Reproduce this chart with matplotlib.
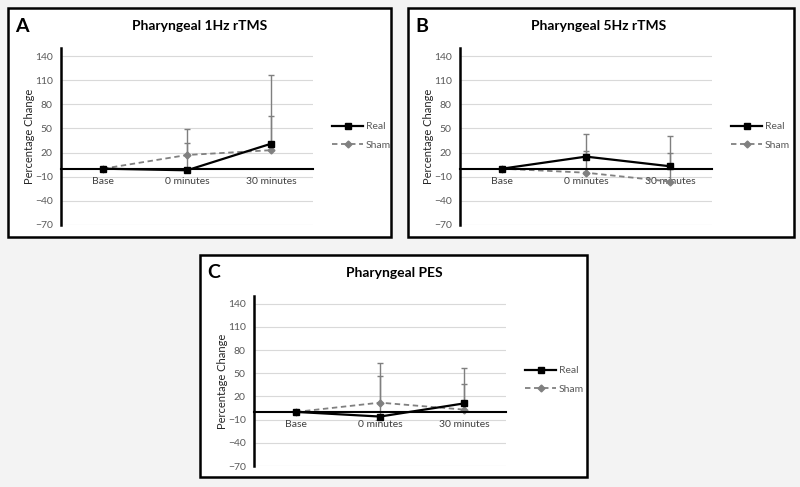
import matplotlib
matplotlib.use("Agg")
import matplotlib.pyplot as plt
from matplotlib.patches import Rectangle

plt.rcParams['font.family'] = ['Lato', 'DejaVu Sans']

categories = ["Base", "0 minutes", "30 minutes"]
yticks = [-70, -40, -10, 20, 50, 80, 110, 140]

titles = ["Pharyngeal 1Hz rTMS", "Pharyngeal 5Hz rTMS", "Pharyngeal PES"]
letters = ["A", "B", "C"]

real_A = [0, -2, 31]
sham_A = [0, 17, 23]
real_err_A = [0, 34, 86]
sham_err_A = [0, 32, 42]

real_B = [0, 15, 3]
sham_B = [0, -5, -16]
real_err_B = [0, 28, 38]
sham_err_B = [0, 27, 35]

real_C = [0, -6, 11]
sham_C = [0, 12, 3]
real_err_C = [0, 53, 46]
sham_err_C = [0, 51, 33]

W, H = 800, 487
fig = plt.figure(figsize=(W / 100, H / 100), dpi=100)
fig.patch.set_facecolor('#f3f3f3')

def fx(x):
    return x / W

def fy(y):
    return 1 - y / H

# panel boxes (pixels): x0, y0, x1, y1
boxes = [(8, 8, 391, 237), (408, 8, 794, 237), (200, 255, 587, 477)]
# axes area (pixels): x0, ytop, x1, ybottom
axes_px = [(61, 48, 313, 225), (460, 48, 712, 225), (254, 296, 506, 466)]
legend_px = [(327, 136), (726, 136), (520, 380)]
title_x = [200, 599, 394]

panels = [
    (real_A, sham_A, real_err_A, sham_err_A),
    (real_B, sham_B, real_err_B, sham_err_B),
    (real_C, sham_C, real_err_C, sham_err_C),
]

for i, (real, sham, rerr, serr) in enumerate(panels):
    bx0, by0, bx1, by1 = boxes[i]
    rect = Rectangle((fx(bx0), fy(by1)), fx(bx1 - bx0), (by1 - by0) / H,
                     transform=fig.transFigure, facecolor='white',
                     edgecolor='black', linewidth=1.8, zorder=-5)
    fig.add_artist(rect)
    ax0, at, ax1, ab = axes_px[i]
    ax = fig.add_axes([fx(ax0), fy(ab), fx(ax1 - ax0), (ab - at) / H])
    ax.set_zorder(5)
    ax.set_facecolor('none')
    x = list(range(len(categories)))

    for yt in yticks:
        ax.axhline(yt, color='#d9d9d9', lw=0.8, zorder=0)

    ax.errorbar(x, real, yerr=[[0] * 3, rerr], fmt='none', ecolor='#7f7f7f',
                elinewidth=1.0, capsize=2.5, capthick=1.0, zorder=2)
    ax.errorbar(x, sham, yerr=[[0] * 3, serr], fmt='none', ecolor='#7f7f7f',
                elinewidth=1.0, capsize=2.5, capthick=1.0, zorder=2)
    ax.plot(x, sham, color='#808080', lw=1.3, ls=(0, (3, 2)), marker='D',
            markersize=3.5, markerfacecolor='#808080', markeredgecolor='#808080',
            label='Sham', zorder=3)
    ax.plot(x, real, color='black', lw=1.6, marker='s', markersize=5,
            label='Real', zorder=4)
    handles, labels = ax.get_legend_handles_labels()
    handles, labels = handles[::-1], labels[::-1]

    ax.set_xlim(-0.5, 2.5)
    ax.set_ylim(-70, 150)
    ax.set_yticks(yticks)
    ax.set_xticks(x)
    ax.set_xticklabels(categories)
    ax.spines['top'].set_visible(False)
    ax.spines['right'].set_visible(False)
    ax.spines['left'].set_linewidth(1.8)
    ax.spines['bottom'].set_position(('data', 0))
    ax.spines['bottom'].set_linewidth(1.5)
    ax.spines['bottom'].set_zorder(3.5)
    ax.tick_params(axis='y', length=0, pad=6, labelsize=7.5, labelcolor='#595959')
    ax.tick_params(axis='x', length=0, pad=6, labelsize=7.5, labelcolor='#404040')
    ax.set_ylabel('Percentage Change', fontsize=8, color='#262626', labelpad=0)

    lx, ly = legend_px[i]
    ax.legend(handles, labels, loc='center left',
              bbox_to_anchor=(fx(lx), fy(ly)), bbox_transform=fig.transFigure,
              frameon=False, fontsize=7.5, handlelength=3.0, handletextpad=0.2,
              labelspacing=0.9, borderpad=0, labelcolor='#595959')

    fig.text(fx(title_x[i]), fy(by0 + 18), titles[i], fontsize=10,
             fontweight='bold', ha='center', va='center', color='black')
    fig.text(fx(bx0 + 7), fy(by0 + 18), letters[i], fontsize=14,
             fontweight='bold', ha='left', va='center', color='black')

fig.savefig('out.png', dpi=100, facecolor=fig.get_facecolor())
